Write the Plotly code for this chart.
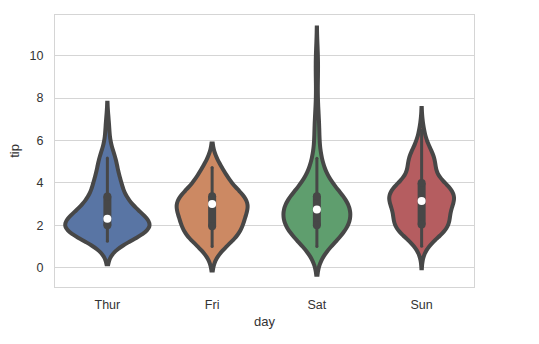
import numpy as np
import plotly.graph_objects as go

# Tip amounts (USD) from the restaurant tips data, grouped by day
days = ["Thur", "Fri", "Sat", "Sun"]

tips_thur = [4.00, 3.00, 2.71, 3.00, 3.40, 1.83, 5.00, 2.03, 5.17, 2.00, 4.00, 5.85, 3.00,
             1.50, 1.80, 2.92, 2.31, 1.68, 2.50, 2.00, 2.52, 4.20, 1.48, 2.00, 2.00, 2.18,
             1.50, 2.83, 1.50, 2.00, 3.25, 1.25, 2.00, 2.00, 2.00, 2.75, 3.50, 6.70, 5.00,
             5.00, 2.30, 1.50, 1.36, 1.63, 1.73, 2.00, 4.19, 2.56, 2.02, 4.00, 1.44, 2.00,
             5.00, 2.00, 2.00, 4.00, 2.01, 2.00, 2.50, 4.00, 3.23, 3.00]
tips_fri = [3.00, 3.50, 1.00, 4.30, 3.25, 4.73, 4.00, 1.50, 3.00, 1.50, 2.50, 3.00,
            2.20, 3.48, 1.92, 3.00, 1.58, 2.50, 2.00]
tips_sat = [3.35, 4.08, 2.75, 2.23, 7.58, 3.18, 2.34, 2.00, 2.00, 4.30, 3.00, 1.45, 2.50,
            3.00, 2.45, 3.27, 3.60, 2.00, 3.07, 2.31, 5.00, 2.24, 3.00, 1.50, 1.76, 6.73,
            3.21, 2.00, 1.98, 3.76, 2.64, 3.15, 2.47, 1.00, 2.01, 2.09, 1.97, 3.00, 3.14,
            5.00, 2.20, 1.25, 3.08, 2.50, 3.48, 4.08, 1.64, 4.06, 4.29, 3.76, 4.00, 3.00,
            1.00, 1.61, 2.00, 10.00, 3.16, 3.41, 3.00, 2.03, 2.23, 2.00, 5.16, 9.00, 2.50,
            6.50, 1.10, 3.00, 1.50, 1.44, 3.09, 3.00, 2.72, 2.88, 2.00, 3.00, 3.39, 1.47,
            3.00, 1.25, 1.00, 1.17, 4.67, 5.92, 2.00, 2.00, 1.75]
tips_sun = [1.01, 1.66, 3.50, 3.31, 3.61, 4.71, 2.00, 3.12, 1.96, 3.23, 1.71, 5.00, 1.57,
            3.00, 3.02, 3.92, 1.67, 3.71, 3.50, 2.54, 3.06, 1.32, 5.60, 3.00, 5.00, 6.00,
            2.05, 3.00, 2.50, 2.60, 5.20, 1.56, 4.34, 3.51, 4.00, 2.55, 4.00, 3.50, 5.07,
            2.50, 2.00, 2.74, 2.00, 2.00, 5.14, 5.00, 3.75, 2.61, 2.00, 3.50, 2.50, 2.00,
            2.00, 3.00, 3.48, 2.24, 4.50, 5.15, 3.18, 4.00, 3.11, 2.00, 2.00, 4.00, 3.55,
            3.68, 5.65, 3.50, 6.50, 3.00, 5.00, 3.50, 2.00, 3.50, 4.00, 1.50]

tips_by_day = [tips_thur, tips_fri, tips_sat, tips_sun]
fill_colors = ["#5975A4", "#CC8963", "#5F9E6E", "#B55D60"]
edge_color = "#474747"
grid_color = "#D5D5D5"
text_color = "#333333"


def scott_bandwidth(values):
    v = np.asarray(values, dtype=float)
    return v.std(ddof=1) * len(v) ** (-1 / 5)


def peak_density(values, bw):
    v = np.asarray(values, dtype=float)
    grid = np.linspace(v.min() - 2 * bw, v.max() + 2 * bw, 400)
    dens = np.exp(-0.5 * ((grid[:, None] - v[None, :]) / bw) ** 2).sum(axis=1)
    return dens.max() / (len(v) * bw * np.sqrt(2 * np.pi))


bandwidths = [scott_bandwidth(t) for t in tips_by_day]
peaks = [peak_density(t, b) for t, b in zip(tips_by_day, bandwidths)]
max_peak = max(peaks)

fig = go.Figure()

for day, vals, bw, pk, col in zip(days, tips_by_day, bandwidths, peaks, fill_colors):
    fig.add_trace(go.Violin(
        x=[day] * len(vals), y=vals, name=day,
        bandwidth=bw, spanmode="soft", scalemode="width",
        width=0.8 * pk / max_peak,
        points=False, fillcolor=col, opacity=1,
        line=dict(color=edge_color, width=4),
        box_visible=False, meanline_visible=False,
        hoverinfo="skip", showlegend=False,
    ))

# Inner box: whiskers to adjacent values, thick IQR bar (rounded ends), white median dot
for day, vals in zip(days, tips_by_day):
    v = np.asarray(vals)
    q1, q2, q3 = np.percentile(v, [25, 50, 75])
    lim = 1.5 * (q3 - q1)
    lo = v[v >= q1 - lim].min()
    hi = v[v <= q3 + lim].max()
    fig.add_trace(go.Scatter(x=[day, day], y=[lo, hi], mode="lines+markers",
                             line=dict(color=edge_color, width=3),
                             marker=dict(color=edge_color, size=3, line=dict(width=0)),
                             hoverinfo="skip", showlegend=False))
    fig.add_trace(go.Scatter(x=[day, day], y=[q1, q3], mode="lines+markers",
                             line=dict(color=edge_color, width=8),
                             marker=dict(color=edge_color, size=8, line=dict(width=0)),
                             hoverinfo="skip", showlegend=False))
    fig.add_trace(go.Scatter(x=[day], y=[q2], mode="markers",
                             marker=dict(color="white", size=8, line=dict(width=0)),
                             hoverinfo="skip", showlegend=False))

fig.update_layout(
    width=539, height=344,
    margin=dict(l=55, r=65, t=15, b=57),
    paper_bgcolor="white", plot_bgcolor="white",
    violinmode="overlay",
    font=dict(family="Liberation Sans, Arial, sans-serif", size=12.5, color=text_color),
    xaxis=dict(
        type="category", categoryorder="array", categoryarray=days,
        range=[-0.5, 3.5], showgrid=False, zeroline=False,
        showline=True, linecolor=grid_color, linewidth=1, mirror=True,
        ticks="outside", ticklen=6, tickcolor="rgba(0,0,0,0)",
        title=dict(text="day", standoff=5, font=dict(size=13)),
    ),
    yaxis=dict(
        range=[-0.91, 11.92], tickvals=[0, 2, 4, 6, 8, 10],
        showgrid=True, gridcolor=grid_color, gridwidth=1, zeroline=False,
        showline=True, linecolor=grid_color, linewidth=1, mirror=True,
        ticks="outside", ticklen=8, tickcolor="rgba(0,0,0,0)",
        title=dict(text="tip", standoff=7, font=dict(size=13)),
    ),
)

fig.write_html("out.html")
